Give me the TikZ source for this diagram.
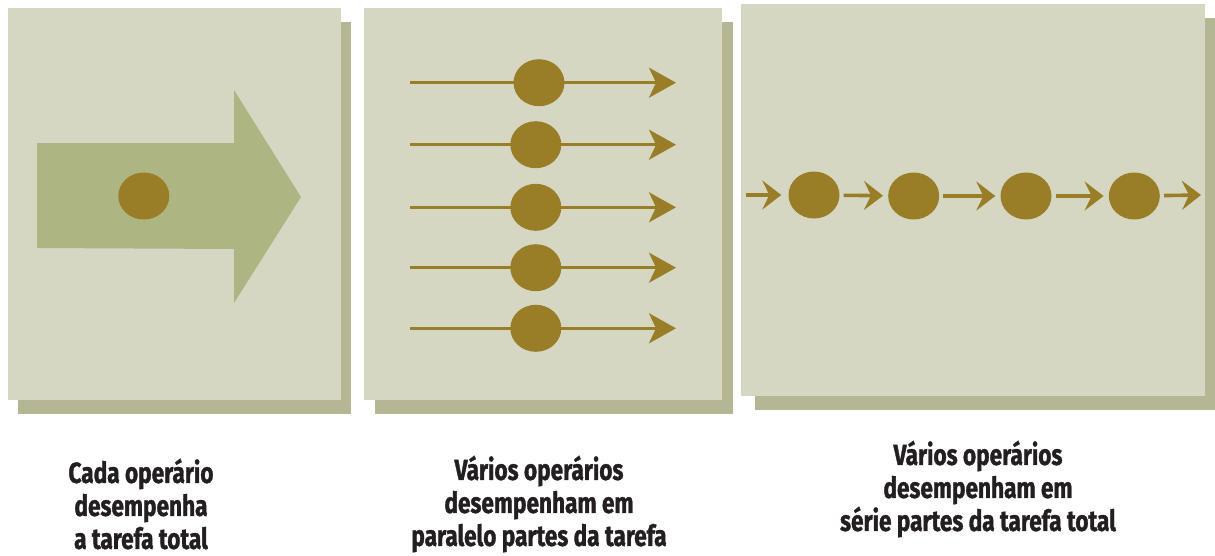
\documentclass[tikz,border=0pt]{standalone}
\usepackage{fontspec}
\newfontfamily\capfont{Fira Sans}[FakeStretch=0.78, BoldFeatures={FakeBold=1.2}]
\usetikzlibrary{arrows.meta,shapes.geometric}
\definecolor{panelbg}{HTML}{D6D7C3}
\definecolor{panelsh}{HTML}{B5B794}
\definecolor{bigarrow}{HTML}{ADB583}
\definecolor{dotcol}{HTML}{9A7E27}
\definecolor{txtcol}{HTML}{231F20}
\tikzset{
  panel/.style={fill=panelbg, draw=none},
  shadowbox/.style={fill=panelsh, draw=none},
  dot/.style={ellipse, fill=dotcol, draw=none, minimum width=51pt, minimum height=47pt, inner sep=0pt},
  pline/.style={draw=dotcol, line width=2.8pt, -{Stealth[length=27pt, width=30pt, inset=7pt]}},
  sline/.style={draw=dotcol, line width=3.6pt, -{Stealth[length=19pt, width=29pt, inset=7pt]}},
  caption/.style={align=center, text=txtcol, font=\capfont\bfseries\fontsize{29}{33}\selectfont, inner sep=0pt}
}
\begin{document}
\begin{tikzpicture}[x=1pt, y=-1pt]
\useasboundingbox (0,0) rectangle (1215,555);
% panel 1
\fill[shadowbox] (18,22) rectangle (351,414);
\fill[panel] (8,8) rectangle (341,400);
\fill[bigarrow] (37,143) -- (234,143) -- (234,90) -- (301,197) -- (234,303) -- (234,249) -- (37,248) -- cycle;
\node[dot] (p1) at (143.8,196) {};
% panel 2
\fill[shadowbox] (375,22) rectangle (733,414);
\fill[panel] (364,8) rectangle (722,400);
\foreach \i/\y/\x in {1/82.7/539, 2/144.7/535.8, 3/207.3/535.8, 4/267.7/535.8, 5/328.3/535.8}{
  \coordinate (s\i) at (410,\y);
  \coordinate (e\i) at (676,\y);
  \draw[pline] (s\i) -- (e\i);
  \node[dot] (q\i) at (\x,\y) {};
}
% panel 3
\fill[shadowbox] (755,18) rectangle (1215,410);
\fill[panel] (741,4) rectangle (1205,396);
\coordinate (in) at (745.7,195);
\coordinate (out) at (1201,195);
\node[dot] (r1) at (814,195) {};
\node[dot] (r2) at (913.7,196) {};
\node[dot] (r3) at (1026,196) {};
\node[dot] (r4) at (1134.3,196) {};
\draw[sline, shorten >=7pt] (in) -- (r1);
\draw[sline, shorten <=4pt, shorten >=5pt] (r1) -- (r2);
\draw[sline, shorten <=4pt, shorten >=5pt] (r2) -- (r3);
\draw[sline, shorten <=4pt, shorten >=5pt] (r3) -- (r4);
\draw[sline, shorten <=4pt] (r4) -- (out);
% captions
\node[caption] (c1) at (141,504) {Cada operário\\desempenha\\a tarefa total};
\node[caption] (c2) at (539,504) {Vários operários\\desempenham em\\paralelo partes da tarefa};
\node[caption] (c3) at (978,489) {Vários operários\\desempenham em\\série partes da tarefa total};
\end{tikzpicture}
\end{document}
